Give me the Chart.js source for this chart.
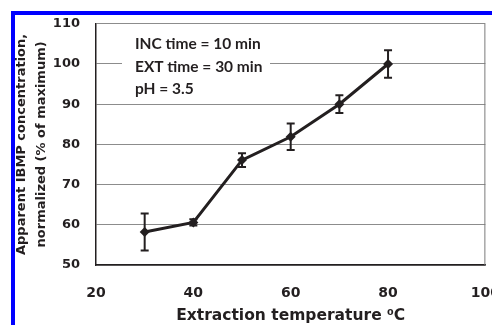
<!DOCTYPE html>
<html>
<head>
<meta charset="utf-8">
<script src="https://cdn.jsdelivr.net/npm/chart.js@4.4.1/dist/chart.umd.min.js"></script>
<style>
  html, body { margin: 0; padding: 0; overflow: hidden; background: #fff; width: 492px; height: 325px; }
  #wrap { position: relative; width: 520px; height: 325px; }
  canvas { position: absolute; left: 0; top: 0; }
  .blue { position: absolute; background: #0000ff; }
  .white { position: absolute; background: #fff; }
</style>
</head>
<body>
<div id="wrap">
  <canvas id="c" width="520" height="325"></canvas>
  <div class="blue" style="left:11px;top:11px;width:520px;height:4px;"></div>
  <div class="blue" style="left:11px;top:11px;width:4px;height:320px;"></div>
  <div class="white" style="left:15px;top:15px;width:520px;height:2px;"></div>
</div>
<script>
// ---- data ----
const temperatures = [30, 40, 50, 60, 70, 80];
const concentration = [58.2, 60.6, 76.1, 81.9, 90.0, 100.0];
const errors = [4.6, 0.8, 1.7, 3.3, 2.2, 3.4];
const xTicks = [20, 40, 60, 80, 100];
const yTicks = [50, 60, 70, 80, 90, 100, 110];
const noteLines = ['INC time = 10 min', 'EXT time = 30 min', 'pH = 3.5'];
const xTitle = 'Extraction temperature \u2070C';
const yTitle = ['Apparent IBMP concentration,', 'normalized (% of maximum)'];

const DARK = '#231f20';

const errorBars = {
  id: 'errorBars',
  afterDatasetsDraw(chart) {
    const ctx = chart.ctx, xs = chart.scales.x, ys = chart.scales.y;
    ctx.save();
    ctx.strokeStyle = DARK;
    ctx.lineWidth = 2;
    temperatures.forEach((t, i) => {
      const x = xs.getPixelForValue(t);
      const yt = ys.getPixelForValue(concentration[i] + errors[i]);
      const yb = ys.getPixelForValue(concentration[i] - errors[i]);
      ctx.beginPath();
      ctx.moveTo(x, yt); ctx.lineTo(x, yb);
      ctx.moveTo(x - 4, yt); ctx.lineTo(x + 4, yt);
      ctx.moveTo(x - 4, yb); ctx.lineTo(x + 4, yb);
      ctx.stroke();
    });
    ctx.restore();
  }
};

const frameAndNote = {
  id: 'frameAndNote',
  beforeDatasetsDraw(chart) {
    const ctx = chart.ctx, a = chart.chartArea;
    ctx.save();
    // right border
    ctx.strokeStyle = '#7a7a7a';
    ctx.lineWidth = 1;
    ctx.beginPath();
    ctx.moveTo(a.right - 0.5, a.top);
    ctx.lineTo(a.right - 0.5, a.bottom);
    ctx.stroke();
    // note box
    ctx.fillStyle = '#fff';
    ctx.fillRect(122, 24, 148, 73);
    ctx.fillStyle = DARK;
    ctx.font = 'bold 15.5px Lato';
    ctx.textAlign = 'left';
    ctx.textBaseline = 'alphabetic';
    const baselines = [49, 72, 93.5];
    noteLines.forEach((s, i) => ctx.fillText(s, 135, baselines[i]));
    ctx.restore();
  }
};

new Chart(document.getElementById('c'), {
  type: 'line',
  data: {
    datasets: [{
      data: temperatures.map((t, i) => ({ x: t, y: concentration[i] })),
      borderColor: DARK,
      backgroundColor: DARK,
      borderWidth: 3,
      pointStyle: 'rectRot',
      pointRadius: 5,
      pointBorderWidth: 0,
      tension: 0,
      fill: false
    }]
  },
  options: {
    responsive: false,
    animation: false,
    layout: { padding: { left: 0, right: 29, top: 20, bottom: 0 } },
    plugins: { legend: { display: false }, tooltip: { enabled: false } },
    scales: {
      x: {
        type: 'linear',
        min: 20, max: 100,
        afterBuildTicks(s) { s.ticks = xTicks.map(v => ({ value: v })); },
        afterFit(s) { s.height = 60; },
        grid: { display: false, drawTicks: false },
        border: { display: true, color: DARK, width: 1.5 },
        ticks: {
          padding: 20,
          color: DARK,
          font: { family: 'DejaVu Sans', weight: 'bold', size: 14 },
          maxRotation: 0
        },
        title: {
          display: true,
          text: xTitle,
          color: DARK,
          padding: { top: 4, bottom: 0 },
          font: { family: 'DejaVu Sans', weight: 'bold', size: 15.5, lineHeight: 1.2 }
        }
      },
      y: {
        min: 50, max: 110,
        afterBuildTicks(s) { s.ticks = yTicks.map(v => ({ value: v })); },
        afterFit(s) { s.width = 96; },
        grid: { color: '#8c8c8c', lineWidth: 1, drawTicks: false },
        border: { display: true, color: DARK, width: 1.5 },
        ticks: {
          padding: 16,
          color: DARK,
          font: { family: 'DejaVu Sans', weight: 'bold', size: 13 }
        },
        title: {
          display: true,
          text: yTitle,
          color: DARK,
          padding: { top: 12, bottom: 1 },
          font: { family: 'DejaVu Sans', weight: 'bold', size: 13, lineHeight: 20 / 13 }
        }
      }
    }
  },
  plugins: [frameAndNote, errorBars]
});
</script>
</body>
</html>
